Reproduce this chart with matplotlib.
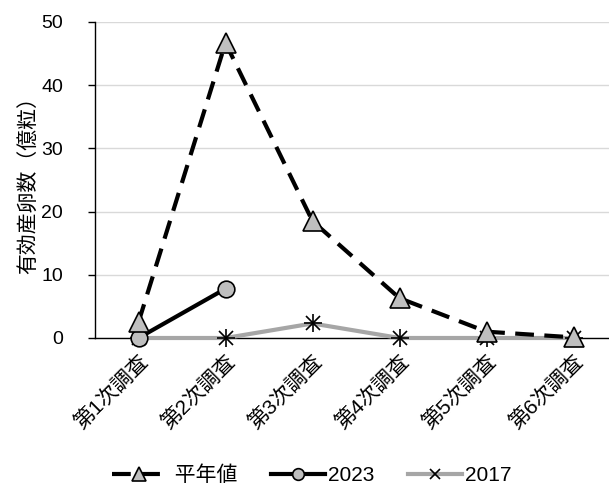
import matplotlib.pyplot as plt
import numpy as np

plt.rcParams['font.family'] = ['Liberation Sans', 'Noto Sans CJK JP']

categories = ['第1次調査', '第2次調査', '第3次調査', '第4次調査', '第5次調査', '第6次調査']
heinen = [2.5, 46.7, 18.5, 6.3, 1.0, 0.1]
y2023 = [0.0, 7.8]
y2017 = [0.0, 0.0, 2.3, 0.0, 0.0, 0.0]

fig = plt.figure(figsize=(6.09, 4.91), dpi=100)
ax = fig.add_axes([95 / 609, 1 - 338 / 491, 522 / 609, 316 / 491])

x = np.arange(len(categories))
ax.plot(x, y2017, color='#a6a6a6', lw=3, marker='x', ms=10, mec='black', mew=1.2,
        label='2017', zorder=3)
ax.plot(x[:len(y2023)], y2023, color='black', lw=3, marker='o', ms=12,
        mfc='#bfbfbf', mec='black', mew=1.2, label='2023', zorder=4)
ax.plot(x, heinen, color='black', lw=3, ls=(0, (4.5, 2.5)), marker='^', ms=14,
        mfc='#bfbfbf', mec='black', mew=1.2, label=' 平年値', zorder=5)
# star look for 2017 (x + plus)
ax.plot(x, y2017, ls='none', marker='+', ms=13, mec='black', mew=1.2, zorder=3)

ax.set_xlim(-0.5, 5.5)
ax.set_ylim(0, 50)
ax.set_yticks(range(0, 51, 10))
ax.yaxis.grid(True, color='#d9d9d9', lw=1)
ax.set_axisbelow(True)
for s in ['top', 'right']:
    ax.spines[s].set_visible(False)
ax.spines['left'].set_linewidth(1)
ax.spines['bottom'].set_linewidth(1)
ax.tick_params(axis='y', length=5, labelsize=14, direction='out', pad=18, width=1)
ax.tick_params(axis='x', length=0, labelsize=15, pad=10)
ax.set_xticks(x)
ax.set_xticklabels(categories, rotation=45, ha='right', rotation_mode='anchor')
ax.set_ylabel('有効産卵数（億粒）', fontsize=15, labelpad=2)
for line in ax.lines:
    line.set_clip_on(False)

handles, labels = ax.get_legend_handles_labels()
order = [2, 1, 0]
ax.legend([handles[i] for i in order], [labels[i] for i in order],
          loc='center', bbox_to_anchor=(0.5 - 44 / 522, -0.434), ncol=3,
          frameon=False, fontsize=15, handlelength=2.6, columnspacing=1.6,
          handletextpad=0.15, markerscale=0.7)

fig.savefig('out.png', dpi=100)
